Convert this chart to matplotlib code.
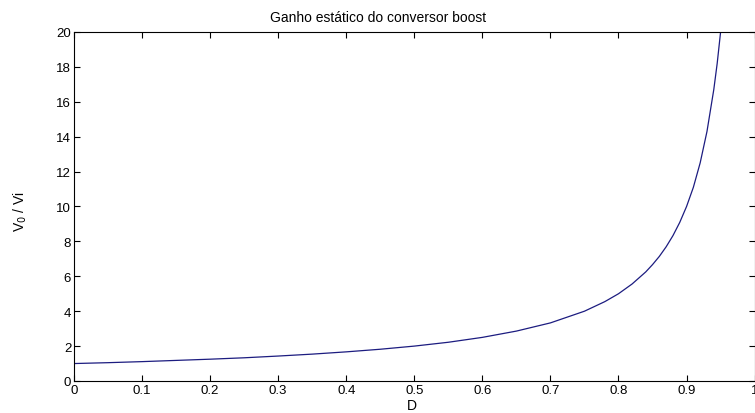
import numpy as np
import matplotlib.pyplot as plt

# duty cycle D and static gain V0/Vi
D = [0.0, 0.05, 0.10, 0.15, 0.20, 0.25, 0.30, 0.35, 0.40, 0.45, 0.50,
     0.55, 0.60, 0.65, 0.70, 0.75, 0.78, 0.80, 0.82, 0.84, 0.85, 0.86,
     0.87, 0.88, 0.89, 0.90, 0.91, 0.92, 0.93, 0.94, 0.945, 0.95]
gain = [1.0, 1.05, 1.11, 1.18, 1.25, 1.33, 1.43, 1.54, 1.67, 1.82, 2.0,
        2.22, 2.5, 2.86, 3.33, 4.0, 4.55, 5.0, 5.56, 6.25, 6.67, 7.14,
        7.69, 8.33, 9.09, 10.0, 11.1, 12.5, 14.3, 16.7, 18.2, 20.0]

xticks = [0, 0.1, 0.2, 0.3, 0.4, 0.5, 0.6, 0.7, 0.8, 0.9, 1]
xticklabels = ['0', '0.1', '0.2', '0.3', '0.4', '0.5', '0.6', '0.7', '0.8', '0.9', '1']
yticks = [0, 2, 4, 6, 8, 10, 12, 14, 16, 18, 20]

plt.rcParams['font.family'] = ['Liberation Sans', 'DejaVu Sans']

fig = plt.figure(figsize=(7.55, 4.14), dpi=100)
ax = fig.add_axes([0.098, 0.0773, 0.9015, 0.843])

ax.plot(D, gain, color='#1c1c80', linewidth=0.9)

ax.set_xlim(0, 1)
ax.set_ylim(0, 20)
ax.set_xticks(xticks)
ax.set_xticklabels(xticklabels)
ax.set_yticks(yticks)
ax.tick_params(direction='in', length=4, width=0.8, labelsize=9.5,
               top=True, right=True, pad=2, colors='black')
for s in ax.spines.values():
    s.set_linewidth(0.8)

# title sits left of the axes centre in the reference (image was cropped)
fig.text(378 / 755, 1 - 18 / 414, 'Ganho estático do conversor boost',
         fontsize=10, ha='center', va='center')
fig.text(412 / 755, 1 - 406 / 414, 'D', fontsize=10, ha='center', va='center')
fig.text(20 / 755, 1 - 212 / 414, 'V$_0$ / Vi', fontsize=10, rotation=90,
         ha='center', va='center')

fig.savefig('out.png', dpi=100)
